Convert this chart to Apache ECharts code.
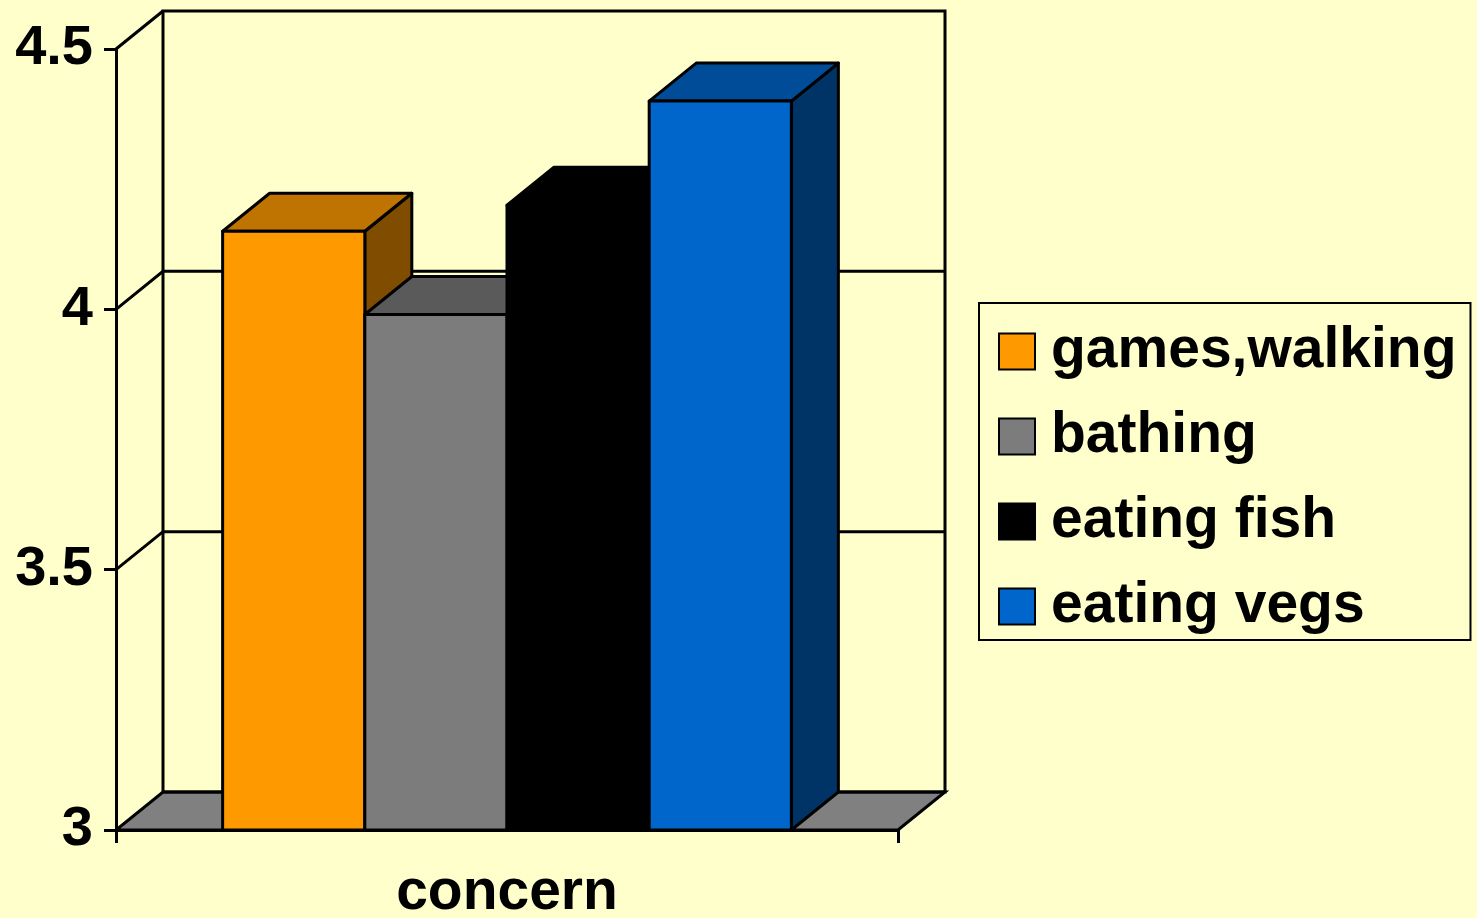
<!DOCTYPE html>
<html>
<head>
<meta charset="utf-8">
<script src="https://cdn.jsdelivr.net/npm/echarts@6/dist/echarts.min.js"></script>
<style>
    html, body { margin: 0; padding: 0; background: #FFFFCC; }
    #main { width: 1477px; height: 918px; }
</style>
</head>
<body>
<div id="main"></div>
<script>
// data
const categories = ['concern'];
const seriesNames = ['games,walking', 'bathing', 'eating fish', 'eating vegs'];
const seriesValues = [4.15, 3.99, 4.20, 4.40];
const yTicks = [3, 3.5, 4, 4.5];

// 颜色: 正面 / 顶面 / 侧面
const frontColors = ['#FF9900', '#7C7C7C', '#000000', '#0066CC'];
const topColors = ['#BF7300', '#5A5A5A', '#000000', '#004C99'];
const sideColors = ['#7F4C00', '#3C3C3C', '#000000', '#003366'];

const DX = 47, DY = 38; // 景深偏移
const yMin = yTicks[0], yMax = yTicks[yTicks.length - 1];
const font = 'Liberation Sans, Arial, sans-serif';
const lw = 3;

/**
 * 背景墙、底面、网格线
 */
function renderWalls(params, api) {
    const cs = params.coordSys;
    const left = cs.x, right = cs.x + cs.width;
    const yBase = api.coord([0, yMin])[1];
    const yTop = api.coord([0, yMax])[1];
    const children = [];
    children.push({
        type: 'polygon',
        shape: { points: [[left, yBase], [right, yBase], [right + DX, yBase - DY], [left + DX, yBase - DY]] },
        style: { fill: '#808080', stroke: '#000', lineWidth: lw }
    });
    children.push({
        type: 'polygon',
        shape: { points: [[left + DX, yTop - DY], [right + DX, yTop - DY], [right + DX, yBase - DY], [left + DX, yBase - DY]] },
        style: { fill: 'none', stroke: '#000', lineWidth: lw }
    });
    children.push({
        type: 'polyline',
        shape: { points: [[left, yTop], [left + DX, yTop - DY]] },
        style: { fill: 'none', stroke: '#000', lineWidth: lw }
    });
    for (let i = 1; i < yTicks.length - 1; i++) {
        const y = api.coord([0, yTicks[i]])[1];
        children.push({
            type: 'polyline',
            shape: { points: [[left, y], [left + DX, y - DY], [right + DX, y - DY]] },
            style: { fill: 'none', stroke: '#000', lineWidth: lw }
        });
    }
    return { type: 'group', children: children };
}

/**
 * 立体柱子
 */
function makeBarRender(idx) {
    return function (params, api) {
        const c = api.coord([api.value(0), api.value(1)]);
        const base = api.coord([api.value(0), yMin]);
        const band = api.size([1, 0])[0];
        const w = band / 5.5;
        const x0 = c[0] - 2 * w + idx * w, x1 = x0 + w;
        const yT = c[1], yB = base[1];
        const st = { stroke: '#000', lineWidth: lw, lineJoin: 'round' };
        return {
            type: 'group',
            children: [
                {
                    type: 'polygon',
                    shape: { points: [[x1, yT], [x1 + DX, yT - DY], [x1 + DX, yB - DY], [x1, yB]] },
                    style: Object.assign({ fill: sideColors[idx] }, st)
                },
                {
                    type: 'polygon',
                    shape: { points: [[x0, yT], [x0 + DX, yT - DY], [x1 + DX, yT - DY], [x1, yT]] },
                    style: Object.assign({ fill: topColors[idx] }, st)
                },
                {
                    type: 'rect',
                    shape: { x: x0, y: yT, width: w, height: yB - yT },
                    style: Object.assign({ fill: frontColors[idx] }, st)
                }
            ]
        };
    };
}

const chart = echarts.init(document.getElementById('main'));
const series = [{
    type: 'custom',
    name: '_walls',
    renderItem: renderWalls,
    data: [[0, yMin]],
    clip: false,
    silent: true,
    z: 1
}];
for (let i = 0; i < seriesNames.length; i++) {
    series.push({
        type: 'custom',
        name: seriesNames[i],
        renderItem: makeBarRender(i),
        data: [[0, seriesValues[i]]],
        clip: false,
        z: 2 + i,
        itemStyle: { color: frontColors[i] }
    });
}

option = {
    backgroundColor: '#FFFFCC',
    animation: false,
    grid: { left: 116, right: 579, top: 49, bottom: 88, outerBoundsMode: 'none', containLabel: false },
    legend: {
        data: seriesNames,
        orient: 'vertical',
        left: 979,
        top: 303,
        itemWidth: 36,
        itemHeight: 36,
        itemGap: 28,
        padding: [20, 14, 5, 19],
        borderColor: '#000',
        borderWidth: 2,
        icon: 'rect',
        itemStyle: { borderColor: '#000', borderWidth: 2 },
        textStyle: {
            fontSize: 57, fontWeight: 'bold', fontFamily: font, color: '#000',
            lineHeight: 56, padding: [0, 0, 0, 11]
        }
    },
    xAxis: {
        type: 'category',
        data: categories,
        axisLine: { onZero: false, lineStyle: { color: '#000', width: lw } },
        axisTick: { show: true, length: 13, lineStyle: { color: '#000', width: lw } },
        axisLabel: { fontSize: 57, fontWeight: 'bold', fontFamily: font, color: '#000', margin: 35 },
        splitLine: { show: false }
    },
    yAxis: {
        type: 'value',
        min: yMin,
        max: yMax,
        interval: 0.5,
        axisLine: { show: true, lineStyle: { color: '#000', width: lw } },
        axisTick: { show: true, length: 12, lineStyle: { color: '#000', width: lw } },
        axisLabel: { fontSize: 56, fontWeight: 'bold', fontFamily: font, color: '#000', margin: 23 },
        splitLine: { show: false }
    },
    series: series
};
chart.setOption(option);
</script>
</body>
</html>
